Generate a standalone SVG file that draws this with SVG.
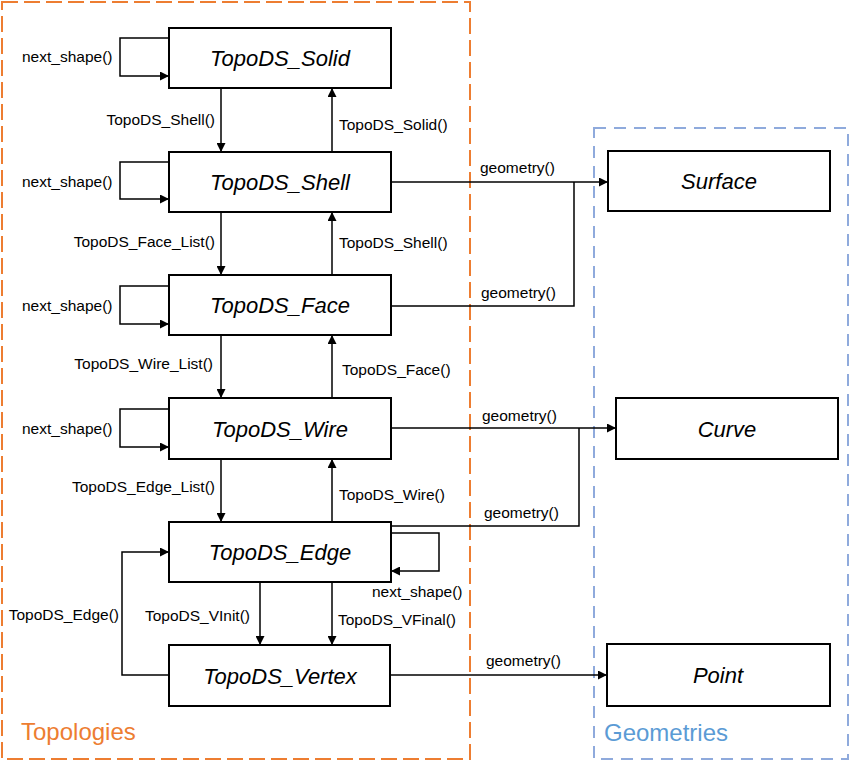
<svg xmlns="http://www.w3.org/2000/svg" width="850" height="765" viewBox="0 0 850 765">
<defs>
<style>
.box{fill:#fff;stroke:#000;stroke-width:2}
.title{font-family:"Liberation Sans",Arial,sans-serif;font-style:italic;font-size:22px;fill:#000;text-anchor:middle}
.lbl{font-family:"Liberation Sans",Arial,sans-serif;font-size:15.5px;fill:#000}
.c{fill:none;stroke:#000;stroke-width:1.5}
.end{text-anchor:end}
</style>
<marker id="ah" viewBox="0 0 10 10" refX="10" refY="5" markerWidth="10" markerHeight="9" markerUnits="userSpaceOnUse" orient="auto">
<path d="M0,0 L10,5 L0,10 z" fill="#000"/>
</marker>
</defs>
<rect width="850" height="765" fill="#fff"/>

<g id="topologies">
<rect x="2" y="2" width="468" height="757" fill="none" stroke="#ED7D31" stroke-width="2" stroke-dasharray="16 6"/>
<text x="21" y="740" font-family="Liberation Sans,Arial,sans-serif" font-size="24" fill="#ED7D31">Topologies</text>
</g>
<g id="geometries">
<rect x="594" y="128" width="254" height="631" fill="none" stroke="#8FAADC" stroke-width="2" stroke-dasharray="12 8"/>
<text x="604" y="741" font-family="Liberation Sans,Arial,sans-serif" font-size="24" fill="#5B9BD5">Geometries</text>
</g>

<g id="connectors">
<path class="c" d="M169,38 H120 V76 H169" marker-end="url(#ah)"/>
<path class="c" d="M169,162 H120 V199 H169" marker-end="url(#ah)"/>
<path class="c" d="M169,286 H120 V324 H169" marker-end="url(#ah)"/>
<path class="c" d="M169,409 H120 V447 H169" marker-end="url(#ah)"/>
<path class="c" d="M391,533 H439 V571 H391" marker-end="url(#ah)"/>
<path class="c" d="M221,88 V152" marker-end="url(#ah)"/>
<path class="c" d="M221,212 V275" marker-end="url(#ah)"/>
<path class="c" d="M221,335 V398" marker-end="url(#ah)"/>
<path class="c" d="M221,459 V522" marker-end="url(#ah)"/>
<path class="c" d="M260,582 V645" marker-end="url(#ah)"/>
<path class="c" d="M332,582 V645" marker-end="url(#ah)"/>
<path class="c" d="M332,152 V88" marker-end="url(#ah)"/>
<path class="c" d="M332,275 V212" marker-end="url(#ah)"/>
<path class="c" d="M332,398 V335" marker-end="url(#ah)"/>
<path class="c" d="M332,522 V459" marker-end="url(#ah)"/>
<path class="c" d="M169,675 H122 V552 H169" marker-end="url(#ah)"/>
<path class="c" d="M391,182 H608" marker-end="url(#ah)"/>
<path class="c" d="M391,306 H574 V182"/>
<path class="c" d="M391,428 H616" marker-end="url(#ah)"/>
<path class="c" d="M391,526 H579 V428"/>
<path class="c" d="M390,675 H607" marker-end="url(#ah)"/>

<text class="lbl" x="22" y="62">next_shape()</text>
<text class="lbl" x="22" y="187">next_shape()</text>
<text class="lbl" x="22" y="311">next_shape()</text>
<text class="lbl" x="22" y="434">next_shape()</text>
<text class="lbl" x="372" y="597">next_shape()</text>
<text class="lbl end" x="215" y="125">TopoDS_Shell()</text>
<text class="lbl" x="339" y="130">TopoDS_Solid()</text>
<text class="lbl end" x="215" y="247">TopoDS_Face_List()</text>
<text class="lbl" x="339" y="248">TopoDS_Shell()</text>
<text class="lbl end" x="213" y="369">TopoDS_Wire_List()</text>
<text class="lbl" x="342" y="375">TopoDS_Face()</text>
<text class="lbl end" x="215" y="492">TopoDS_Edge_List()</text>
<text class="lbl" x="339" y="500">TopoDS_Wire()</text>
<text class="lbl end" x="119" y="620">TopoDS_Edge()</text>
<text class="lbl end" x="250" y="621">TopoDS_VInit()</text>
<text class="lbl" x="338" y="625">TopoDS_VFinal()</text>
<text class="lbl" x="480" y="173">geometry()</text>
<text class="lbl" x="481" y="298">geometry()</text>
<text class="lbl" x="482" y="421">geometry()</text>
<text class="lbl" x="484" y="518">geometry()</text>
<text class="lbl" x="486" y="666">geometry()</text>
</g>

<g id="solid"><rect class="box" x="169" y="28" width="222" height="60"/><text class="title" x="280" y="66">TopoDS_Solid</text></g>
<g id="shell"><rect class="box" x="169" y="152" width="222" height="60"/><text class="title" x="280" y="190">TopoDS_Shell</text></g>
<g id="face"><rect class="box" x="169" y="275" width="222" height="60"/><text class="title" x="280" y="313">TopoDS_Face</text></g>
<g id="wire"><rect class="box" x="169" y="398" width="222" height="61"/><text class="title" x="280" y="437">TopoDS_Wire</text></g>
<g id="edge"><rect class="box" x="169" y="522" width="222" height="60"/><text class="title" x="280" y="560">TopoDS_Edge</text></g>
<g id="vertex"><rect class="box" x="169" y="645" width="221" height="61"/><text class="title" x="280" y="684">TopoDS_Vertex</text></g>
<g id="surface"><rect class="box" x="608" y="151" width="222" height="60"/><text class="title" x="719" y="189">Surface</text></g>
<g id="curve"><rect class="box" x="616" y="398" width="222" height="61"/><text class="title" x="727" y="437">Curve</text></g>
<g id="point"><rect class="box" x="607" y="644" width="223" height="62"/><text class="title" x="718" y="683">Point</text></g>
</svg>
